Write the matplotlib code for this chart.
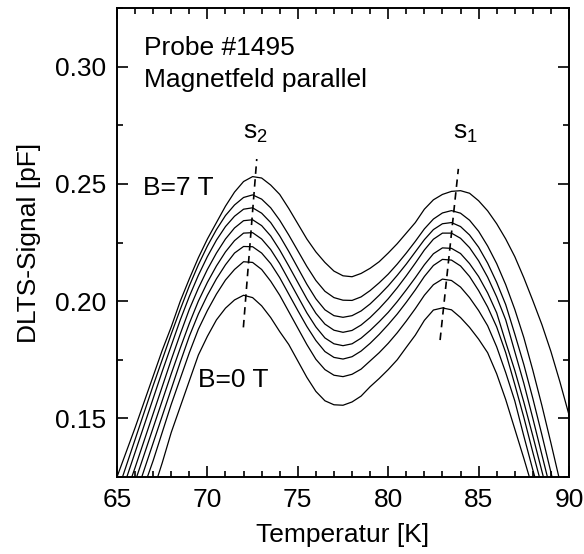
import matplotlib
matplotlib.use("Agg")
import matplotlib.pyplot as plt
from matplotlib.ticker import MultipleLocator, FormatStrFormatter

plt.rcParams["font.family"] = ["Liberation Sans", "DejaVu Sans"]
plt.rcParams["mathtext.default"] = "regular"

# Temperature grid [K]
temperature = [65 + 0.5 * i for i in range(51)]

# DLTS signal [pF] for B = 0 ... 7 T
signal_0T = [0.075, 0.086, 0.097, 0.108, 0.119, 0.131, 0.144, 0.155, 0.166, 0.177,
             0.185, 0.192, 0.197, 0.2005, 0.2025, 0.2015, 0.198, 0.193, 0.187, 0.1815,
             0.1745, 0.1675, 0.1615, 0.1575, 0.1558, 0.1556, 0.157, 0.1595, 0.1635, 0.167,
             0.1708, 0.175, 0.1803, 0.1855, 0.1918, 0.1962, 0.1971, 0.1963, 0.193, 0.1888,
             0.1838, 0.178, 0.169, 0.158, 0.1455, 0.133, 0.120, 0.107, 0.094, 0.081, 0.068]
signal_1T = [0.087, 0.098, 0.109, 0.121, 0.132, 0.144, 0.156, 0.167, 0.178, 0.188,
             0.196, 0.203, 0.209, 0.2135, 0.2168, 0.2165, 0.2135, 0.2085, 0.2025, 0.1955,
             0.1885, 0.1815, 0.1752, 0.1708, 0.1684, 0.1678, 0.1688, 0.171, 0.1745, 0.178,
             0.182, 0.1865, 0.1915, 0.1968, 0.2025, 0.207, 0.2094, 0.2088, 0.206, 0.2015,
             0.196, 0.1895, 0.1805, 0.1695, 0.1575, 0.1425, 0.128, 0.1145, 0.101, 0.088, 0.075]
signal_2T = [0.093, 0.104, 0.1165, 0.128, 0.1395, 0.151, 0.1625, 0.174, 0.185, 0.1945,
             0.2025, 0.2095, 0.2155, 0.2205, 0.2233, 0.2232, 0.2205, 0.216, 0.21, 0.203,
             0.196, 0.1892, 0.1832, 0.1785, 0.176, 0.1753, 0.1763, 0.1787, 0.182, 0.1858,
             0.19, 0.1945, 0.1995, 0.2048, 0.2105, 0.2152, 0.2178, 0.2175, 0.215, 0.2105,
             0.2045, 0.1975, 0.189, 0.178, 0.1645, 0.1505, 0.1355, 0.121, 0.107, 0.093, 0.079]
signal_3T = [0.100, 0.111, 0.123, 0.1345, 0.146, 0.1575, 0.169, 0.180, 0.1905, 0.200,
             0.208, 0.215, 0.221, 0.2258, 0.229, 0.2292, 0.2265, 0.222, 0.216, 0.209,
             0.202, 0.195, 0.189, 0.1843, 0.1818, 0.181, 0.1818, 0.1842, 0.1875, 0.1912,
             0.1952, 0.1998, 0.2048, 0.21, 0.2155, 0.2202, 0.2227, 0.2225, 0.2203, 0.216,
             0.2105, 0.2035, 0.195, 0.1825, 0.1705, 0.157, 0.1425, 0.1275, 0.1125, 0.098, 0.083]
signal_4T = [0.106, 0.118, 0.129, 0.1405, 0.152, 0.1635, 0.175, 0.186, 0.1965, 0.2055,
             0.2135, 0.2205, 0.2265, 0.2312, 0.2343, 0.2347, 0.2322, 0.2278, 0.2218, 0.215,
             0.208, 0.201, 0.1948, 0.1902, 0.1876, 0.1867, 0.1875, 0.1898, 0.193, 0.1968,
             0.201, 0.2057, 0.2108, 0.2162, 0.2218, 0.2264, 0.229, 0.229, 0.2268, 0.2228,
             0.2172, 0.2102, 0.2018, 0.192, 0.1785, 0.165, 0.150, 0.1345, 0.119, 0.1035, 0.088]
signal_5T = [0.1125, 0.124, 0.1355, 0.147, 0.1585, 0.170, 0.181, 0.192, 0.202, 0.211,
             0.219, 0.226, 0.2318, 0.2362, 0.2392, 0.2398, 0.2375, 0.2335, 0.2278, 0.2212,
             0.2142, 0.2072, 0.201, 0.1963, 0.1938, 0.1931, 0.1938, 0.1958, 0.1988, 0.2025,
             0.2065, 0.211, 0.2158, 0.221, 0.2262, 0.2305, 0.233, 0.2335, 0.2318, 0.2282,
             0.223, 0.2162, 0.208, 0.1985, 0.186, 0.173, 0.1585, 0.143, 0.127, 0.111, 0.095]
signal_6T = [0.118, 0.1295, 0.141, 0.1525, 0.164, 0.175, 0.186, 0.1965, 0.2065, 0.2155,
             0.2235, 0.2305, 0.2365, 0.241, 0.2442, 0.2453, 0.2435, 0.2398, 0.2345, 0.2282,
             0.2215, 0.2148, 0.2088, 0.2042, 0.2015, 0.2004, 0.2003, 0.2018, 0.2045, 0.2078,
             0.2115, 0.2158, 0.2205, 0.2255, 0.2308, 0.235, 0.2376, 0.2386, 0.2375, 0.2345,
             0.2298, 0.2235, 0.216, 0.207, 0.1965, 0.1845, 0.1705, 0.1555, 0.1395, 0.123, 0.1065]
signal_7T = [0.125, 0.1355, 0.146, 0.157, 0.168, 0.179, 0.189, 0.200, 0.2095, 0.2185,
             0.2265, 0.2335, 0.2405, 0.2465, 0.251, 0.2531, 0.2525, 0.2495, 0.2455, 0.2395,
             0.233, 0.2265, 0.221, 0.2165, 0.2128, 0.2108, 0.2104, 0.2118, 0.214, 0.2168,
             0.2205, 0.2245, 0.229, 0.2335, 0.2392, 0.2432, 0.2455, 0.2468, 0.2471, 0.246,
             0.2428, 0.2385, 0.233, 0.2265, 0.219, 0.210, 0.2002, 0.19, 0.1785, 0.1655, 0.1515]

curves = [signal_0T, signal_1T, signal_2T, signal_3T,
          signal_4T, signal_5T, signal_6T, signal_7T]

# Peak shift guides for the two levels
s2_T = [71.99, 72.73]
s2_V = [0.1888, 0.2606]
s1_T = [82.87, 83.88]
s1_V = [0.1834, 0.2564]

fig = plt.figure(figsize=(5.84, 5.54), dpi=100)
ax = fig.add_axes([117 / 584, 1 - 477 / 554, 452 / 584, 469 / 554])

for sig in curves:
    ax.plot(temperature, sig, color="black", lw=0.9)

ax.plot(s2_T, s2_V, color="black", lw=1.2, dashes=(4.5, 3.2))
ax.plot(s1_T, s1_V, color="black", lw=1.2, dashes=(4.5, 3.2))

fs = 19
ax.text(66.48, 0.3051, "Probe #1495", fontsize=fs)
ax.text(66.48, 0.2911, "Magnetfeld parallel", fontsize=fs)
ax.text(66.45, 0.2453, "B=7 T", fontsize=fs)
ax.text(69.5, 0.1632, "B=0 T", fontsize=fs)
ax.text(71.97, 0.2694, r"$s_2$", fontsize=fs)
ax.text(83.58, 0.2694, r"$s_1$", fontsize=fs)

ax.set_xlim(65, 90)
ax.set_ylim(0.125, 0.325)
ax.xaxis.set_major_locator(MultipleLocator(5))
ax.xaxis.set_minor_locator(MultipleLocator(1))
ax.yaxis.set_major_locator(MultipleLocator(0.05))
ax.yaxis.set_minor_locator(MultipleLocator(0.025))
ax.yaxis.set_major_formatter(FormatStrFormatter("%.2f"))

ax.tick_params(which="both", direction="in", top=True, right=True,
               width=1.2, labelsize=fs)
ax.tick_params(which="major", length=8, pad=8)
ax.tick_params(which="minor", length=4.5)
for sp in ax.spines.values():
    sp.set_linewidth(1.4)

ax.set_xlabel("Temperatur [K]", fontsize=fs, labelpad=8)
ax.set_ylabel("DLTS-Signal [pF]", fontsize=fs, labelpad=10)

fig.savefig("out.png", dpi=100)
